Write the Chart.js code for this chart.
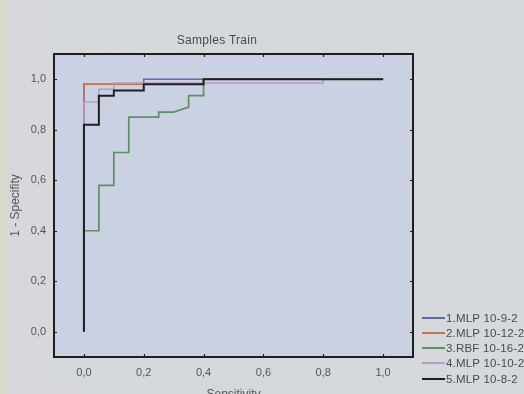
<!DOCTYPE html>
<html>
<head>
<meta charset="utf-8">
<script src="https://cdn.jsdelivr.net/npm/chart.js@4"></script>
<style>
  html, body { margin:0; padding:0; width:524px; height:394px; overflow:hidden; }
  body { background: linear-gradient(90deg, #d9d8c6 0px, #d6d8db 14px, #d5d8dc 100%); font-family: "Liberation Sans", Arial, sans-serif; position:relative; }
  #wrap { position:absolute; left:0; top:0; width:524px; height:394px; }
  #title { position:absolute; left:117px; width:200px; top:33px; text-align:center; font-size:12px; color:#4a4a4a; letter-spacing:0.3px; }
  .leg { position:absolute; left:422px; height:14px; font-size:11.5px; color:#4a4a4a; white-space:nowrap; letter-spacing:0.2px; }
  .leg span.sw { display:inline-block; width:23px; height:0; border-top:2px solid; vertical-align:middle; margin-right:1px; position:relative; top:-1px; }
</style>
</head>
<body>
<div id="wrap"><canvas id="c" width="524" height="394"></canvas></div>
<div id="title">Samples Train</div>
<div id="legend"></div>
<script>
// ---- data ----
const seriesNames = ["1.MLP 10-9-2", "2.MLP 10-12-2", "3.RBF 10-16-2", "4.MLP 10-10-2", "5.MLP 10-8-2"];
const seriesColors = ["#5a68b0", "#c8704c", "#5f8f64", "#b49cc4", "#1e1e1e"];
const seriesWidths = [1.5, 1.5, 1.7, 1.5, 2.0];

const mlp1X = [0, 0, 0.2, 0.2, 1.0];
const mlp1Y = [0, 0.98, 0.98, 1.0, 1.0];

const mlp2X = [0, 0, 0.4, 0.4, 1.0];
const mlp2Y = [0, 0.98, 0.98, 1.0, 1.0];

const rbf3X = [0, 0, 0.05, 0.05, 0.1, 0.1, 0.15, 0.15, 0.25, 0.25, 0.3, 0.35, 0.35, 0.4, 0.4, 1.0];
const rbf3Y = [0, 0.4, 0.4, 0.58, 0.58, 0.71, 0.71, 0.85, 0.85, 0.87, 0.87, 0.89, 0.935, 0.935, 1.0, 1.0];

const mlp4X = [0, 0, 0.05, 0.05, 0.1, 0.1, 0.8, 0.8, 1.0];
const mlp4Y = [0, 0.91, 0.91, 0.96, 0.96, 0.985, 0.985, 1.0, 1.0];

const mlp5X = [0, 0, 0.05, 0.05, 0.1, 0.1, 0.2, 0.2, 0.4, 0.4, 1.0];
const mlp5Y = [0, 0.82, 0.82, 0.935, 0.935, 0.955, 0.955, 0.98, 0.98, 1.0, 1.0];

const xTickValues = [0.0, 0.2, 0.4, 0.6, 0.8, 1.0];
const yTickValues = [0.0, 0.2, 0.4, 0.6, 0.8, 1.0];
const xTitle = "Sensitivity";
const yTitle = "1 - Specifity";

// ---- build ----
const allX = [mlp1X, mlp2X, rbf3X, mlp4X, mlp5X];
const allY = [mlp1Y, mlp2Y, rbf3Y, mlp4Y, mlp5Y];
const datasets = seriesNames.map((name, i) => ({
  label: name,
  data: allX[i].map((x, j) => ({ x: x, y: allY[i][j] })),
  borderColor: seriesColors[i],
  backgroundColor: seriesColors[i],
  borderWidth: seriesWidths[i],
  showLine: true,
  pointRadius: 0,
  tension: 0,
  order: seriesNames.length - i
}));

const fmt = v => Number(v).toFixed(1).replace('.', ',');

const frame = {
  id: 'frame',
  beforeDraw(chart) {
    const { ctx, chartArea: a } = chart;
    ctx.save();
    ctx.fillStyle = '#cad1e2';
    ctx.fillRect(a.left, a.top, a.right - a.left, a.bottom - a.top);
    ctx.restore();
  },
  afterDraw(chart) {
    const { ctx, chartArea: a, scales } = chart;
    ctx.save();
    ctx.strokeStyle = '#1e1e1e';
    ctx.lineWidth = 1.2;
    const len = 3;
    ctx.beginPath();
    xTickValues.forEach(v => {
      const px = Math.round(scales.x.getPixelForValue(v)) + 0.5;
      ctx.moveTo(px, a.bottom); ctx.lineTo(px, a.bottom - len);
      ctx.moveTo(px, a.top); ctx.lineTo(px, a.top + len);
    });
    yTickValues.forEach(v => {
      const py = Math.round(scales.y.getPixelForValue(v)) + 0.5;
      ctx.moveTo(a.left, py); ctx.lineTo(a.left + len, py);
      ctx.moveTo(a.right, py); ctx.lineTo(a.right - len, py);
    });
    ctx.stroke();
    ctx.lineWidth = 2;
    ctx.strokeRect(a.left, a.top, a.right - a.left, a.bottom - a.top);
    ctx.restore();
  }
};

const tickFont = { family: '"Liberation Sans", Arial, sans-serif', size: 11 };
const titleFont = { family: '"Liberation Sans", Arial, sans-serif', size: 12 };

new Chart(document.getElementById('c'), {
  type: 'scatter',
  data: { datasets },
  options: {
    responsive: false,
    animation: false,
    layout: { padding: { left: 0, top: 54, right: 111, bottom: 0 } },
    plugins: { legend: { display: false }, tooltip: { enabled: false }, title: { display: false } },
    scales: {
      x: {
        type: 'linear', min: -0.1, max: 1.1,
        grid: { display: false, drawTicks: false, tickLength: 0 }, border: { display: false },
        afterBuildTicks: s => { s.ticks = xTickValues.map(v => ({ value: v })); },
        afterFit: s => { s.height = 37; },
        ticks: { color: '#555', font: tickFont, padding: 9, maxRotation: 0, callback: v => fmt(v) },
        title: { display: true, text: xTitle, color: '#555', font: titleFont, padding: { top: 0, bottom: -8 } }
      },
      y: {
        type: 'linear', min: -0.1, max: 1.1,
        grid: { display: false, drawTicks: false, tickLength: 0 }, border: { display: false },
        afterBuildTicks: s => { s.ticks = yTickValues.map(v => ({ value: v })); },
        afterFit: s => { s.width = 54; },
        ticks: { color: '#555', font: tickFont, padding: 8, callback: v => fmt(v) },
        title: { display: true, text: yTitle, color: '#555', font: titleFont, padding: { top: 8, bottom: 0 } }
      }
    }
  },
  plugins: [frame]
});

// HTML legend
const legendEl = document.getElementById('legend');
const legendTops = [312, 327, 342, 357, 373];
seriesNames.forEach((name, i) => {
  const d = document.createElement('div');
  d.className = 'leg';
  d.style.top = legendTops[i] + 'px';
  const sw = document.createElement('span');
  sw.className = 'sw';
  sw.style.borderTopColor = seriesColors[i];
  d.appendChild(sw);
  d.appendChild(document.createTextNode(name));
  legendEl.appendChild(d);
});
</script>
</body>
</html>
